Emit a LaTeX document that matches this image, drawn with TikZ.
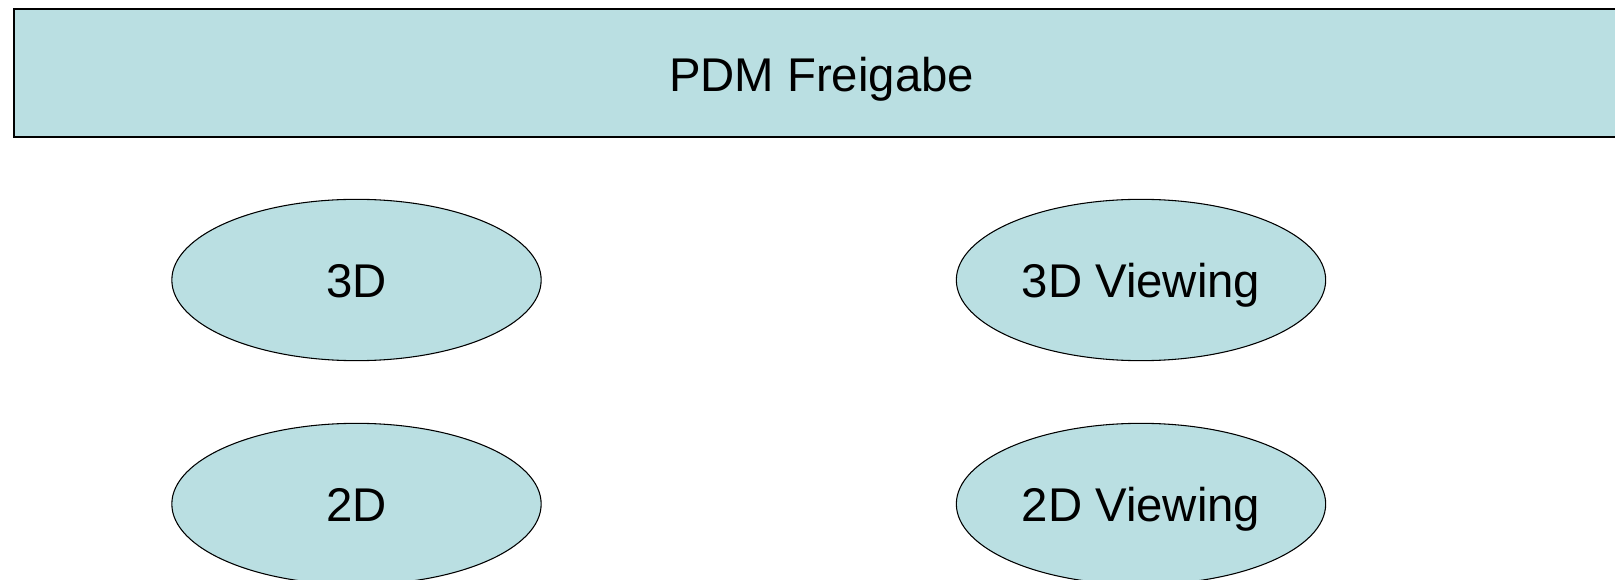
\documentclass[tikz,border=0pt]{standalone}
\usepackage{fontspec}
\setmainfont{Liberation Sans}
\usetikzlibrary{shapes.geometric}
\definecolor{paleteal}{RGB}{186,223,226}
\tikzset{
  labelfont/.style={font=\fontsize{35.5}{42}\selectfont},
  banner/.style={draw=black, line width=1.6pt, fill=paleteal, inner sep=0pt,
    labelfont, text height=28.4pt, text depth=0pt},
  blob/.style={ellipse, draw=black, line width=0.8pt, fill=paleteal, inner sep=0pt,
    minimum width=277pt, minimum height=121pt, labelfont,
    text height=26.3pt, text depth=0pt},
}
\begin{document}
\begin{tikzpicture}[x=0.75pt, y=-0.75pt]
  \useasboundingbox (0,0) rectangle (1615,580);
  \clip (0,0) rectangle (1615,580);
  \node[banner, minimum width=1212pt, minimum height=96pt, anchor=north west]
        (pdm) at (12.5,8) {PDM Freigabe};
  \node[blob] (d3)  at (356.5,280) {3D};
  \node[blob] (d2)  at (356.5,504) {2D};
  \node[blob] (v3)  at (1141,280)  {3D Viewing};
  \node[blob] (v2)  at (1141,504)  {2D Viewing};
\end{tikzpicture}
\end{document}
